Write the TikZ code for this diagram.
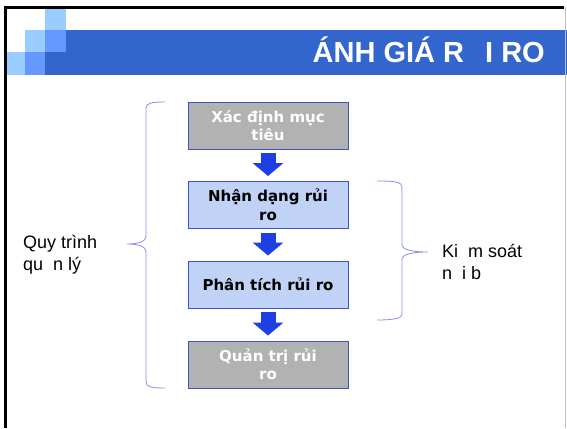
\documentclass[tikz,border=0pt]{standalone}
\usepackage{fontspec}
\setmainfont{Liberation Sans}
\newfontfamily\verd{DejaVu Sans}
\usetikzlibrary{arrows.meta}
\definecolor{banner}{HTML}{3366CC}
\definecolor{sqlight}{HTML}{99CCFF}
\definecolor{sqmid}{HTML}{6699FF}
\definecolor{boxgray}{HTML}{B2B2B2}
\definecolor{boxblue}{HTML}{C0D2F6}
\definecolor{boxline}{HTML}{3F51C4}
\definecolor{arrowblue}{HTML}{1F3FE6}
\definecolor{bracecol}{HTML}{8C8CF5}
\tikzset{
  procbox/.style={draw=boxline, line width=0.9pt, minimum width=160pt, minimum height=47pt, inner sep=0pt, align=center, font=\verd\bfseries\fontsize{15}{18.5}\selectfont},
  graybox/.style={procbox, fill=boxgray, text=white},
  bluebox/.style={procbox, fill=boxblue, text=black},
  blockarrow/.style={draw=arrowblue, line width=15pt, -{Triangle[width=30pt,length=13pt]}, shorten <=4pt, shorten >=5pt},
  bracestyle/.style={draw=bracecol, line width=0.8pt},
  sidetext/.style={anchor=north west, inner sep=0pt, align=left, font=\fontsize{18}{22}\selectfont}
}
\begin{document}
\begin{tikzpicture}[x=1pt,y=-1pt]
\useasboundingbox (0,0) rectangle (567,428);
\fill[white] (0,0) rectangle (567,428);
% corner squares
\fill[sqlight] (45,9) rectangle (66,30);
\fill[sqlight] (25,30) rectangle (45,52);
\fill[sqmid] (45,30) rectangle (66,52);
\fill[sqlight] (5,52) rectangle (25,75);
\fill[sqmid] (25,52) rectangle (45,75);
% banner
\fill[banner] (45,52) rectangle (567,75);
\fill[banner] (66,30) rectangle (567,52);
% frame
\draw[black, line width=2.5pt] (5.5,428) -- (5.5,7.5) -- (564,7.5);
\draw[black!25, line width=1.2pt] (565.5,7) -- (565.5,428);
% title
\node[anchor=base east, inner sep=0pt, text=white, font=\bfseries\fontsize{29}{34}\selectfont] (title) at (545,63) {ÁNH GIÁ R\hspace{21pt}I RO};
% boxes
\node[graybox] (b1) at (268,125.5) {Xác định mục\\tiêu};
\node[bluebox] (b2) at (268,205) {Nhận dạng rủi\\ro};
\node[bluebox] (b3) at (268,284.5) {Phân tích rủi ro};
\node[graybox] (b4) at (268,364.5) {Quản trị rủi\\ro};
% arrows
\draw[blockarrow] (b1) -- (b2);
\draw[blockarrow] (b2) -- (b3);
\draw[blockarrow] (b3) -- (b4);
% braces
\draw[bracestyle] (165,102) .. controls (152,102) and (146,103) .. (146,108) -- (146,236) .. controls (146,241) and (140,244) .. (127,244) .. controls (140,244) and (146,247) .. (146,252) -- (146,382) .. controls (146,387) and (152,388) .. (165,388);
\draw[bracestyle] (377,181) .. controls (395,181) and (402,182) .. (402,187) -- (402,245) .. controls (402,249) and (410,252) .. (428,252) .. controls (410,252) and (402,255) .. (402,259) -- (402,314) .. controls (402,318) and (395,320) .. (377,320);
% side texts
\node[sidetext] (left) at (23,235) {Quy trình\\qu\hspace{10pt}n lý};
\node[sidetext] (right) at (442,244) {Ki\hspace{10pt}m soát\\n\hspace{10pt}i b\hspace{10pt}};
\end{tikzpicture}
\end{document}
